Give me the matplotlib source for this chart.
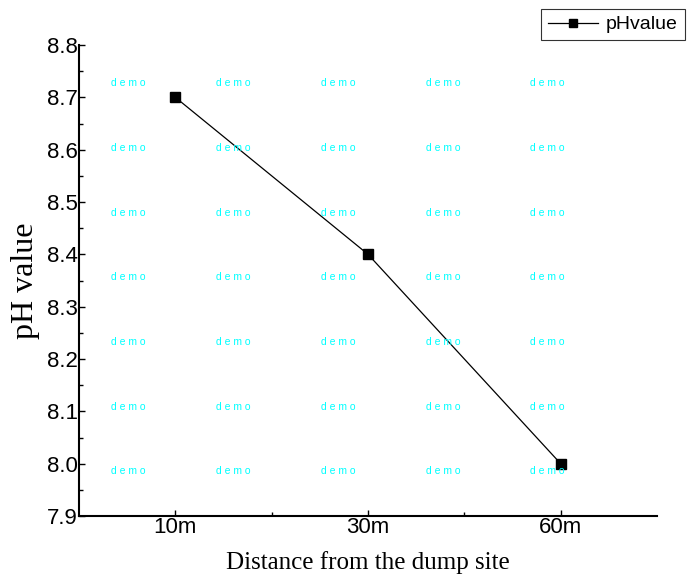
import matplotlib.pyplot as plt
from matplotlib.ticker import MultipleLocator, FixedLocator

# data
distances = ['10m', '30m', '60m']
ph_values = [8.70, 8.40, 8.00]

# watermark grid (figure pixel positions)
wm_x = [128, 233, 338, 443, 547]
wm_y = [83, 148, 213, 277, 342, 407, 471]

W, H = 693, 576
fig = plt.figure(figsize=(W / 100, H / 100), dpi=100)
ax = fig.add_axes([79 / W, 1 - 516 / H, (657 - 79) / W, (516 - 45) / H])

pos = list(range(1, len(distances) + 1))
ax.plot(pos, ph_values, color='black', lw=0.9, marker='s', ms=7,
        mfc='black', mec='black', label='pHvalue')

ax.set_xlim(0.5, 3.5)
ax.set_ylim(7.9, 8.8)
ax.set_xticks(pos)
ax.set_xticklabels(distances)
ax.xaxis.set_minor_locator(FixedLocator([1.5, 2.5]))
ax.yaxis.set_major_locator(MultipleLocator(0.1))
ax.yaxis.set_minor_locator(MultipleLocator(0.05))
ax.yaxis.set_major_formatter(plt.FormatStrFormatter('%.1f'))

for s in ['top', 'right']:
    ax.spines[s].set_visible(False)
for s in ['left', 'bottom']:
    ax.spines[s].set_linewidth(1.5)

ax.tick_params(axis='both', which='major', direction='in', length=4, width=1,
               labelsize=16, pad=1)
ax.tick_params(axis='both', which='minor', direction='in', length=3, width=1)
for lab in ax.get_xticklabels() + ax.get_yticklabels():
    lab.set_family('Liberation Sans')

ax.set_xlabel('Distance from the dump site', family='Liberation Serif',
              fontsize=18, labelpad=9)
ax.set_ylabel('pH value', family='Liberation Serif', fontsize=23, labelpad=5)

leg = ax.legend(loc='upper left', bbox_to_anchor=(541 / W, 1 - 9 / H),
                bbox_transform=fig.transFigure, frameon=True, fancybox=False,
                edgecolor='black', prop={'family': 'Liberation Sans', 'size': 14},
                handlelength=2.6, borderpad=0.35, handletextpad=0.4,
                borderaxespad=0, markerscale=0.8)
leg.get_frame().set_linewidth(0.8)

for y in wm_y:
    for x in wm_x:
        fig.text(x / W, 1 - y / H, 'd e m o', color='cyan', fontsize=7.5,
                 ha='center', va='center', family='Liberation Sans')

fig.savefig('out.png', dpi=100)
